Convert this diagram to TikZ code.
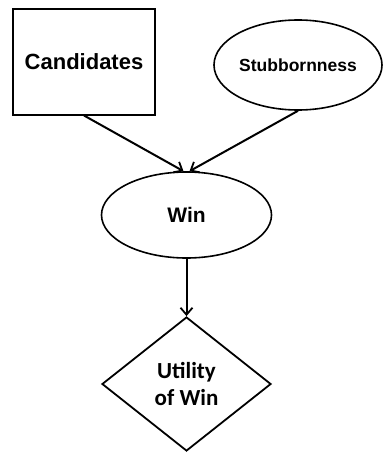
\documentclass[tikz,border=0pt]{standalone}
\usepackage{fontspec}
\setmainfont{Liberation Sans}
\newfontfamily\calfont{Carlito}
\usetikzlibrary{shapes.geometric,arrows.meta}
\tikzset{
  box/.style={draw, line width=2pt, inner sep=0pt, font=\bfseries\fontsize{22}{26}\selectfont},
  oval/.style={draw, ellipse, line width=1.6pt, inner sep=0pt},
  util/.style={draw, diamond, line width=1.8pt, inner sep=0pt, align=center,
    font=\calfont\bfseries\fontsize{23}{27}\selectfont},
  link/.style={line width=2pt, -{Straight Barb[length=7pt,width=12pt,line width=1.8pt]}}
}
\begin{document}
\begin{tikzpicture}[x=1pt,y=-1pt]
\useasboundingbox (0,0) rectangle (383,452);
\node[box, minimum width=142pt, minimum height=105pt] (cand) at (84,62) {Candidates};
\node[oval, minimum width=168pt, minimum height=90pt, font=\bfseries\fontsize{17.5}{20}\selectfont] (stub) at (298,65) {Stubbornness};
\node[oval, minimum width=170pt, minimum height=86pt, font=\bfseries\fontsize{21}{25}\selectfont] (win) at (186.5,215) {Win};
\node[util, minimum width=169pt, minimum height=134pt] (u) at (186.5,384) {Utility\\of Win};
\draw[link] (cand.south) -- ([xshift=-3pt]win.north);
\draw[link] (stub.south) -- ([xshift=3pt]win.north);
\draw[link] (win.south) -- (u.north);
\end{tikzpicture}
\end{document}
